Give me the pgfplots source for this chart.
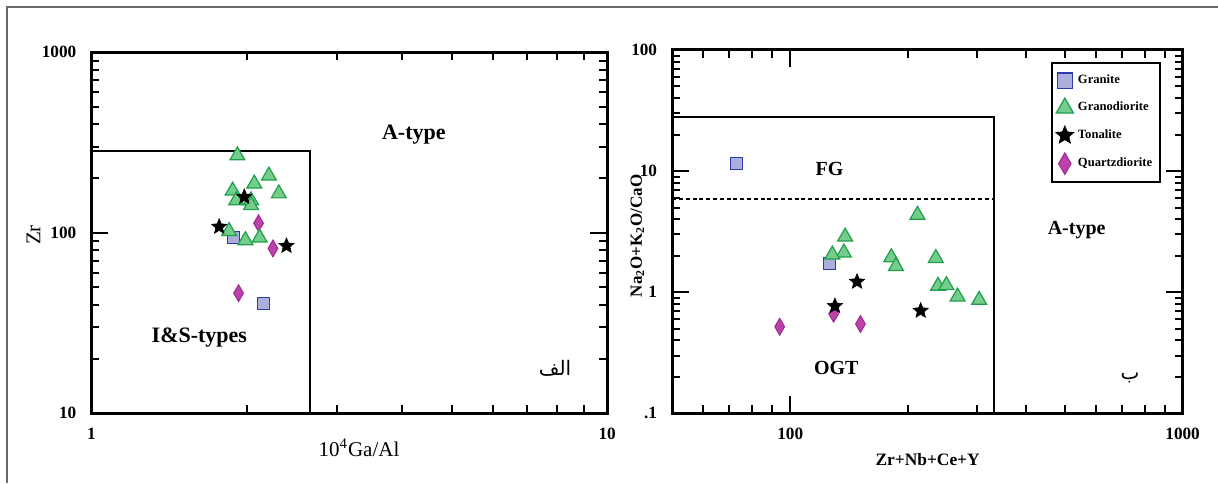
\documentclass[border=0pt]{standalone}
\usepackage{fontspec}
\setmainfont{Liberation Serif}
\newfontfamily\arabicfont[Script=Arabic]{DejaVu Sans}
\TeXXeTstate=1
\usepackage{pgfplots}
\pgfplotsset{compat=1.18}

\definecolor{granfill}{RGB}{172,174,222}
\definecolor{grandraw}{RGB}{48,58,170}
\definecolor{gdfill}{RGB}{118,204,140}
\definecolor{gddraw}{RGB}{28,160,72}
\definecolor{qdfill}{RGB}{186,66,168}
\definecolor{qddraw}{RGB}{160,40,150}
\definecolor{framegray}{RGB}{105,105,105}

% filled five-point star
\pgfdeclareplotmark{fstar}{%
  \pgfpathmoveto{\pgfpointpolar{90}{\pgfplotmarksize}}%
  \pgfpathlineto{\pgfpointpolar{126}{0.45\pgfplotmarksize}}%
  \pgfpathlineto{\pgfpointpolar{162}{\pgfplotmarksize}}%
  \pgfpathlineto{\pgfpointpolar{198}{0.45\pgfplotmarksize}}%
  \pgfpathlineto{\pgfpointpolar{234}{\pgfplotmarksize}}%
  \pgfpathlineto{\pgfpointpolar{270}{0.45\pgfplotmarksize}}%
  \pgfpathlineto{\pgfpointpolar{306}{\pgfplotmarksize}}%
  \pgfpathlineto{\pgfpointpolar{342}{0.45\pgfplotmarksize}}%
  \pgfpathlineto{\pgfpointpolar{18}{\pgfplotmarksize}}%
  \pgfpathlineto{\pgfpointpolar{54}{0.45\pgfplotmarksize}}%
  \pgfpathclose
  \pgfusepathqfillstroke}
% tall diamond
\pgfdeclareplotmark{tdiamond}{%
  \pgfpathmoveto{\pgfqpoint{0pt}{\pgfplotmarksize}}%
  \pgfpathlineto{\pgfqpoint{0.58\pgfplotmarksize}{0pt}}%
  \pgfpathlineto{\pgfqpoint{0pt}{-\pgfplotmarksize}}%
  \pgfpathlineto{\pgfqpoint{-0.58\pgfplotmarksize}{0pt}}%
  \pgfpathclose
  \pgfusepathqfillstroke}

\pgfplotsset{
  granite/.style={only marks, mark=square*, mark size=3pt,
    mark options={fill=granfill, draw=grandraw, line width=0.6pt}},
  granodiorite/.style={only marks, mark=triangle*, mark size=4.3pt,
    mark options={fill=gdfill, draw=gddraw, line width=0.6pt}},
  tonalite/.style={only marks, mark=fstar, mark size=4pt,
    mark options={fill=black, draw=black, line width=0.3pt}},
  quartzdiorite/.style={only marks, mark=tdiamond, mark size=4.2pt,
    mark options={fill=qdfill, draw=qddraw, line width=0.5pt}},
}

\begin{document}
\begin{tikzpicture}
\useasboundingbox (0,0) rectangle (609pt,241.5pt);
\draw[framegray, line width=0.75pt] (3.5pt,0) -- (3.5pt,238pt) -- (609pt,238pt);

% ---- left panel: Zr vs 10^4 Ga/Al
\begin{axis}[scale only axis, xmode=log, ymode=log, clip=false,
  at={(45.65pt,34.85pt)}, anchor=south west,
  width=257.9pt, height=180.5pt,
  axis line style={line width=1.5pt},
  tick style={line width=1pt, black},
  major tick length=8.5pt, minor tick length=4pt,
  tick label style={font=\bfseries\fontsize{8.6}{9}\selectfont},
  xticklabel style={yshift=-4pt},
  yticklabel style={xshift=-4pt},
  xmin=1, xmax=10, ymin=10, ymax=1000,
  xtick={1,10}, xticklabels={1,10},
  minor xtick={2,3,4,5,6,7,8,9},
  ytick={10,100,1000}, yticklabels={10,100,1000},
  minor ytick={20,30,40,50,60,70,80,90,200,300,400,500,600,700,800,900}]
\addplot[black, line width=0.9pt, forget plot] coordinates {(1,285) (2.65,285) (2.65,10)};
\addplot[granite] coordinates {(1.89,94.4) (2.16,40.4)};
\addplot[quartzdiorite] coordinates {(2.11,113) (2.25,82) (1.93,46.3)};
\addplot[granodiorite] coordinates {
  (1.92,268) (2.21,207) (2.07,187) (1.88,171) (2.31,165) (1.91,151)
  (2.04,151) (2.04,142) (1.85,102) (1.99,90.8) (2.12,94)};
\addplot[tonalite] coordinates {(1.98,158) (1.77,108) (2.39,84.6)};
\node[font=\bfseries\fontsize{11}{13}\selectfont] at (axis cs:4.22,352) {A-type};
\node[font=\bfseries\fontsize{11}{13}\selectfont] at (axis cs:1.62,26.2) {I\&S-types};
\node[font=\arabicfont\fontsize{10}{12}\selectfont] at (axis cs:7.93,17.7) {\beginR الف\endR};
\end{axis}
\node[font=\fontsize{10.5}{12}\selectfont] at (179.5pt,17.5pt) {10\textsuperscript{4}Ga/Al};
\node[font=\fontsize{10.5}{12}\selectfont, rotate=90] at (16.75pt,124pt) {Zr};

% ---- right panel: Na2O+K2O/CaO vs Zr+Nb+Ce+Y
\begin{axis}[scale only axis, xmode=log, ymode=log, clip=false,
  at={(336.05pt,34.85pt)}, anchor=south west,
  width=255.25pt, height=181.65pt,
  axis line style={line width=1.5pt},
  tick style={line width=1pt, black},
  major tick length=8.5pt, minor tick length=4pt,
  tick label style={font=\bfseries\fontsize{8.6}{9}\selectfont},
  xticklabel style={yshift=-4pt},
  yticklabel style={xshift=-4pt},
  xmin=50, xmax=1000, ymin=0.1, ymax=100,
  xtick={100,1000}, xticklabels={100,1000},
  minor xtick={60,70,80,90,200,300,400,500,600,700,800,900},
  ytick={0.1,1,10,100}, yticklabels={.1,1,10,100},
  minor ytick={0.2,0.3,0.4,0.5,0.6,0.7,0.8,0.9,2,3,4,5,6,7,8,9,20,30,40,50,60,70,80,90},
  legend style={at={(rel axis cs:0.7416,0.9678)}, anchor=north west,
    draw=black, line width=1pt, inner xsep=2pt, inner ysep=4pt, row sep=3.8pt,
    font=\bfseries\fontsize{6.3}{7}\selectfont},
  legend cell align=left,
  legend image code/.code={\draw[#1] plot coordinates {(5pt,0pt)};}]
\addplot[black, line width=0.9pt, forget plot] coordinates {(50,28) (330,28) (330,0.1)};
\addplot[black, line width=0.8pt, dash pattern=on 2pt off 1.4pt, forget plot] coordinates {(50,5.9) (330,5.9)};
\addplot[granite, forget plot] coordinates {(73.1,11.6) (126,1.73)};
\addplot[quartzdiorite, forget plot] coordinates {(94,0.519) (129,0.664) (151,0.546)};
\addplot[granodiorite, forget plot] coordinates {
  (211,4.34) (138,2.87) (137,2.12) (128,2.04) (181,1.94) (186,1.64)
  (235,1.91) (238,1.125) (250,1.14) (267,0.918) (303,0.862)};
\addplot[tonalite, forget plot] coordinates {(148,1.22) (130,0.769) (215,0.703)};
\addlegendimage{granite, mark size=3.8pt}
\addlegendentry{Granite}
\addlegendimage{granodiorite, mark size=5pt}
\addlegendentry{Granodiorite}
\addlegendimage{tonalite, mark size=4.8pt}
\addlegendentry{Tonalite}
\addlegendimage{quartzdiorite, mark size=5.4pt}
\addlegendentry{Quartzdiorite}
\node[font=\bfseries\fontsize{10}{12}\selectfont] at (axis cs:126,10.5) {FG};
\node[font=\bfseries\fontsize{10}{12}\selectfont] at (axis cs:131,0.235) {OGT};
\node[font=\bfseries\fontsize{10}{12}\selectfont] at (axis cs:537,3.26) {A-type};
\node[font=\arabicfont\fontsize{10}{12}\selectfont] at (axis cs:735,0.195) {\beginR ب\endR};
\end{axis}
\node[font=\bfseries\fontsize{8.7}{10}\selectfont] at (463.8pt,11.5pt) {Zr+Nb+Ce+Y};
\node[font=\bfseries\fontsize{8.5}{10}\selectfont, rotate=90] at (318.7pt,123.6pt)
  {Na\textsubscript{2}O+K\textsubscript{2}O/CaO};
\end{tikzpicture}
\end{document}
